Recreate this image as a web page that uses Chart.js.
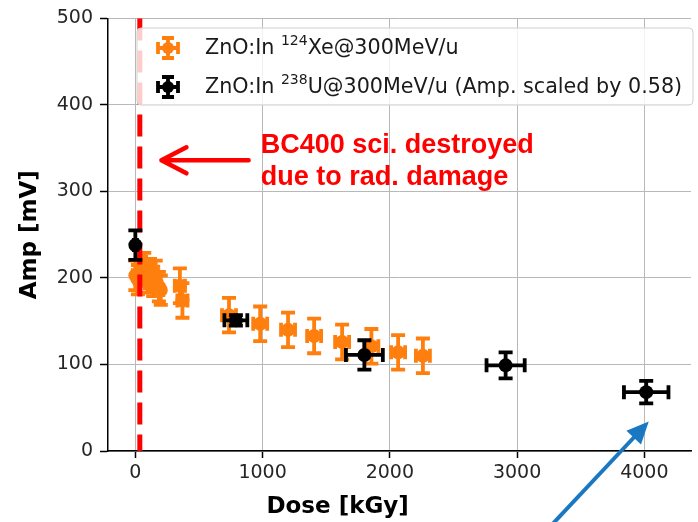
<!DOCTYPE html>
<html>
<head>
<meta charset="utf-8">
<script src="https://cdn.jsdelivr.net/npm/chart.js@4.4.1/dist/chart.umd.min.js"></script>
<style>
  html, body { margin: 0; padding: 0; background: #ffffff; }
  canvas { display: block; }
</style>
</head>
<body>
<canvas id="c" width="698" height="522"></canvas>
<script>
// ZnO:In, 124Xe @ 300 MeV/u
const xeDose = [0, 20, 45, 70, 95, 115, 140, 160, 185, 200, 350, 370, 736, 981, 1200, 1405, 1625, 1855, 2065, 2260];
const xeAmp  = [203, 198, 208, 212, 200, 205, 196, 203, 190, 186, 191, 174, 157, 147, 140, 133, 126, 121, 114, 110];
const xeDoseErr = [20, 20, 20, 20, 20, 20, 20, 20, 20, 20, 40, 40, 55, 55, 55, 55, 55, 55, 55, 55];
const xeAmpErr  = [17, 17, 17, 17, 17, 17, 17, 17, 17, 17, 20, 20, 20, 20, 20, 20, 20, 20, 20, 20];

// ZnO:In, 238U @ 300 MeV/u (amplitude scaled by 0.58)
const uDose = [0, 790, 1800, 2910, 4015];
const uAmp  = [238, 151, 111, 99, 68];
const uDoseErr = [12, 90, 145, 150, 175];
const uAmpErr  = [17, 6, 17, 15, 13];

const xTicks = [0, 1000, 2000, 3000, 4000];
const yTicks = [0, 100, 200, 300, 400, 500];

const damageDose = 35;   // BC400 destroyed

const ORANGE = '#ff7f0e';
const BLACK = '#000000';
const RED = '#ff0000';
const BLUE = '#1a78c2';
const TICK_FONT = 'DejaVu Sans';
const BAR_W = 3.8;
const CAP = 7;

function toPoints(xs, ys) { return xs.map((x, i) => ({ x: x, y: ys[i] })); }

// error bars with caps, drawn under each dataset's markers
const errorBars = {
  id: 'errorBars',
  beforeDatasetDraw(chart, args) {
    const ds = chart.data.datasets[args.index];
    const xs = chart.scales.x, ys = chart.scales.y, ctx = chart.ctx;
    ctx.save();
    ctx.strokeStyle = ds.backgroundColor;
    ctx.lineWidth = BAR_W;
    ds.data.forEach((p, i) => {
      const cx = xs.getPixelForValue(p.x), cy = ys.getPixelForValue(p.y);
      const xl = xs.getPixelForValue(p.x - ds.xErr[i]), xr = xs.getPixelForValue(p.x + ds.xErr[i]);
      const yt = ys.getPixelForValue(p.y + ds.yErr[i]), yb = ys.getPixelForValue(p.y - ds.yErr[i]);
      ctx.beginPath();
      ctx.moveTo(cx, yt); ctx.lineTo(cx, yb);
      ctx.moveTo(xl, cy); ctx.lineTo(xr, cy);
      ctx.moveTo(cx - CAP, yt); ctx.lineTo(cx + CAP, yt);
      ctx.moveTo(cx - CAP, yb); ctx.lineTo(cx + CAP, yb);
      ctx.moveTo(xl, cy - CAP); ctx.lineTo(xl, cy + CAP);
      ctx.moveTo(xr, cy - CAP); ctx.lineTo(xr, cy + CAP);
      ctx.stroke();
    });
    ctx.restore();
  },
  // vertical dashed marker of the scintillator damage dose, above the Xe points
  afterDatasetDraw(chart, args) {
    if (args.index !== 0) return;
    const ctx = chart.ctx, a = chart.chartArea;
    const x = chart.scales.x.getPixelForValue(damageDose);
    ctx.save();
    ctx.strokeStyle = RED;
    ctx.lineWidth = 5;
    ctx.setLineDash([22, 10]);
    ctx.beginPath();
    ctx.moveTo(x, a.top); ctx.lineTo(x, a.bottom);
    ctx.stroke();
    ctx.restore();
  }
};

function drawGlyph(ctx, cx, cy, color) {
  const arm = 10, cap = 6;
  ctx.save();
  ctx.strokeStyle = color; ctx.fillStyle = color; ctx.lineWidth = BAR_W;
  ctx.beginPath();
  ctx.moveTo(cx, cy - arm); ctx.lineTo(cx, cy + arm);
  ctx.moveTo(cx - arm, cy); ctx.lineTo(cx + arm, cy);
  ctx.moveTo(cx - cap, cy - arm); ctx.lineTo(cx + cap, cy - arm);
  ctx.moveTo(cx - cap, cy + arm); ctx.lineTo(cx + cap, cy + arm);
  ctx.moveTo(cx - arm, cy - cap); ctx.lineTo(cx - arm, cy + cap);
  ctx.moveTo(cx + arm, cy - cap); ctx.lineTo(cx + arm, cy + cap);
  ctx.stroke();
  ctx.beginPath(); ctx.arc(cx, cy, 6, 0, Math.PI * 2); ctx.fill();
  ctx.restore();
}

// text with a raised superscript part: [normal, sup, normal]
function drawSupText(ctx, x, y, parts, size) {
  ctx.textBaseline = 'middle';
  ctx.textAlign = 'left';
  ctx.font = size + 'px "' + TICK_FONT + '"';
  ctx.fillText(parts[0], x, y);
  x += ctx.measureText(parts[0]).width;
  ctx.font = Math.round(size * 0.7) + 'px "' + TICK_FONT + '"';
  ctx.fillText(parts[1], x, y - size * 0.35);
  x += ctx.measureText(parts[1]).width;
  ctx.font = size + 'px "' + TICK_FONT + '"';
  ctx.fillText(parts[2], x, y);
}

function arrowHeadFilled(ctx, x0, y0, x1, y1, len, half) {
  const ang = Math.atan2(y1 - y0, x1 - x0);
  ctx.beginPath();
  ctx.moveTo(x1, y1);
  ctx.lineTo(x1 - len * Math.cos(ang) + half * Math.sin(ang), y1 - len * Math.sin(ang) - half * Math.cos(ang));
  ctx.lineTo(x1 - len * Math.cos(ang) - half * Math.sin(ang), y1 - len * Math.sin(ang) + half * Math.cos(ang));
  ctx.closePath();
  ctx.fill();
}

const overlay = {
  id: 'overlay',
  afterDraw(chart) {
    const ctx = chart.ctx, a = chart.chartArea;
    const xs = chart.scales.x, ys = chart.scales.y;

    // axis titles
    ctx.save();
    ctx.fillStyle = '#000';
    ctx.font = 'bold 23px "DejaVu Sans"';
    ctx.textAlign = 'center';
    ctx.textBaseline = 'middle';
    ctx.fillText('Dose [kGy]', xs.getPixelForValue(1590), 507);
    ctx.translate(30, (a.top + a.bottom) / 2);
    ctx.rotate(-Math.PI / 2);
    ctx.fillText('Amp [mV]', 0, 0);
    ctx.restore();

    // legend
    ctx.save();
    const lx = 137, ly = 28, lw = 556, lh = 77, r = 4;
    ctx.beginPath();
    ctx.roundRect(lx, ly, lw, lh, r);
    ctx.fillStyle = 'rgba(255,255,255,0.8)';
    ctx.fill();
    ctx.strokeStyle = '#d0d0d0';
    ctx.lineWidth = 1;
    ctx.stroke();
    drawGlyph(ctx, 168, 48, ORANGE);
    drawGlyph(ctx, 168, 87, BLACK);
    ctx.fillStyle = '#1a1a1a';
    drawSupText(ctx, 205, 49, ['ZnO:In ', '124', 'Xe@300MeV/u'], 20.7);
    drawSupText(ctx, 205, 88, ['ZnO:In ', '238', 'U@300MeV/u (Amp. scaled by 0.58)'], 20.7);
    ctx.restore();

    // red note with arrow pointing to the damage line
    ctx.save();
    ctx.strokeStyle = RED; ctx.fillStyle = RED;
    ctx.lineWidth = 4.5; ctx.lineCap = 'round'; ctx.lineJoin = 'round';
    const ay = ys.getPixelForValue(336);
    const ax0 = xs.getPixelForValue(890), ax1 = xs.getPixelForValue(205);
    ctx.beginPath();
    ctx.moveTo(ax0, ay); ctx.lineTo(ax1, ay);
    ctx.moveTo(ax1 + 25, ay - 13); ctx.lineTo(ax1, ay); ctx.lineTo(ax1 + 25, ay + 13);
    ctx.stroke();
    ctx.font = 'bold 27px "Liberation Sans"';
    ctx.textAlign = 'left'; ctx.textBaseline = 'alphabetic';
    const tx = xs.getPixelForValue(985);
    ctx.fillText('BC400 sci. destroyed', tx, 153);
    ctx.fillText('due to rad. damage', tx, 185);
    ctx.restore();

    // blue arrow pointing at the last U point
    ctx.save();
    ctx.strokeStyle = BLUE; ctx.fillStyle = BLUE;
    ctx.lineWidth = 4;
    const bx0 = xs.getPixelForValue(3275), by0 = ys.getPixelForValue(-85);
    const bx1 = xs.getPixelForValue(4035), by1 = ys.getPixelForValue(34);
    const ang = Math.atan2(by1 - by0, bx1 - bx0);
    ctx.beginPath();
    ctx.moveTo(bx0, by0);
    ctx.lineTo(bx1 - 16 * Math.cos(ang), by1 - 16 * Math.sin(ang));
    ctx.stroke();
    arrowHeadFilled(ctx, bx0, by0, bx1, by1, 22, 10);
    ctx.restore();
  }
};

new Chart(document.getElementById('c'), {
  type: 'scatter',
  data: {
    datasets: [
      {
        label: 'ZnO:In 124Xe@300MeV/u',
        data: toPoints(xeDose, xeAmp),
        xErr: xeDoseErr, yErr: xeAmpErr,
        backgroundColor: ORANGE, borderColor: ORANGE,
        pointRadius: 7, pointBorderWidth: 0, order: 1
      },
      {
        label: 'ZnO:In 238U@300MeV/u (Amp. scaled by 0.58)',
        data: toPoints(uDose, uAmp),
        xErr: uDoseErr, yErr: uAmpErr,
        backgroundColor: BLACK, borderColor: BLACK,
        pointRadius: 7, pointBorderWidth: 0, order: 0
      }
    ]
  },
  options: {
    responsive: false,
    animation: false,
    devicePixelRatio: 1,
    layout: { padding: { top: 17, right: 0, left: 0, bottom: 0 } },
    plugins: { legend: { display: false }, tooltip: { enabled: false } },
    scales: {
      x: {
        type: 'linear', min: -215, max: 4367,
        afterBuildTicks(s) { s.ticks = xTicks.map(v => ({ value: v })); },
        afterFit(s) { s.height = 71; },
        grid: { color: '#b8b8b8', lineWidth: 1, drawTicks: true, tickLength: 7, tickColor: '#000', tickWidth: 1.5 },
        border: { display: true, color: '#000', width: 1.5 },
        ticks: { color: '#262626', font: { family: TICK_FONT, size: 19 }, padding: 4, maxRotation: 0,
                 callback: v => String(v) }
      },
      y: {
        type: 'linear', min: 0, max: 500,
        afterBuildTicks(s) { s.ticks = yTicks.map(v => ({ value: v })); },
        afterFit(s) { s.width = 108; },
        grid: { color: '#b8b8b8', lineWidth: 1, drawTicks: true, tickLength: 8, tickColor: '#000', tickWidth: 1.5 },
        border: { display: true, color: '#000', width: 1.5 },
        ticks: { color: '#262626', font: { family: TICK_FONT, size: 19 }, padding: 7,
                 callback: v => String(v) }
      }
    }
  },
  plugins: [errorBars, overlay]
});
</script>
</body>
</html>
